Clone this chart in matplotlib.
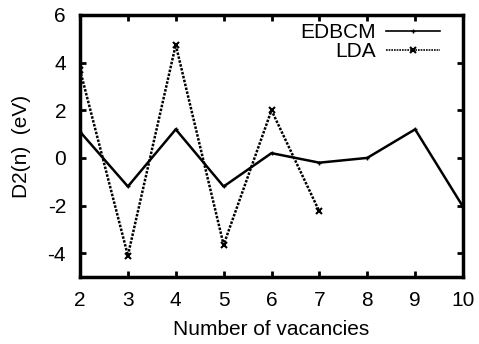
import matplotlib
matplotlib.use("Agg")
from matplotlib import pyplot as plt

plt.rcParams['font.family'] = ['Liberation Sans', 'DejaVu Sans']
plt.rcParams['axes.unicode_minus'] = False

n_edbcm = [2, 3, 4, 5, 6, 7, 8, 9, 10]
d2_edbcm = [1.1, -1.2, 1.2, -1.2, 0.2, -0.2, 0.0, 1.2, -2.05]

n_lda = [2, 3, 4, 5, 6, 7]
d2_lda = [3.7, -4.1, 4.75, -3.65, 2.0, -2.25]

fig = plt.figure(figsize=(4.79, 3.44), dpi=100)
ax = fig.add_axes([80 / 479, 1 - 277 / 344, 383 / 479, 262 / 344])

ax.plot(n_edbcm, d2_edbcm, color='black', lw=1.8, marker='+', ms=3,
        mew=1, label='EDBCM')
ax.plot(n_lda, d2_lda, color='black', lw=1.8, ls=(0, (1, 0.6)),
        marker='x', ms=4, mew=1.5, label='LDA')

ax.set_xlim(2, 10)
ax.set_ylim(-5, 6)
ax.set_xticks(range(2, 11))
ax.set_yticks([-4, -2, 0, 2, 4, 6])
ax.tick_params(direction='in', top=True, right=True, length=4, width=2,
               labelsize=15, pad=10)
for s in ax.spines.values():
    s.set_linewidth(2.5)

ax.set_xlabel('Number of vacancies', fontsize=15, labelpad=7)
ax.set_ylabel('D2(n)  (eV)', fontsize=15, labelpad=12)

leg = ax.legend(loc='upper right', bbox_to_anchor=(0.94, 0.97), frameon=False,
                fontsize=15, markerfirst=False, handlelength=2.6,
                borderaxespad=0.0, borderpad=0.0, labelspacing=0.0,
                handletextpad=0.5)
for h in leg.get_lines():
    h.set_linewidth(1.2)

fig.savefig('out.png', dpi=100)
